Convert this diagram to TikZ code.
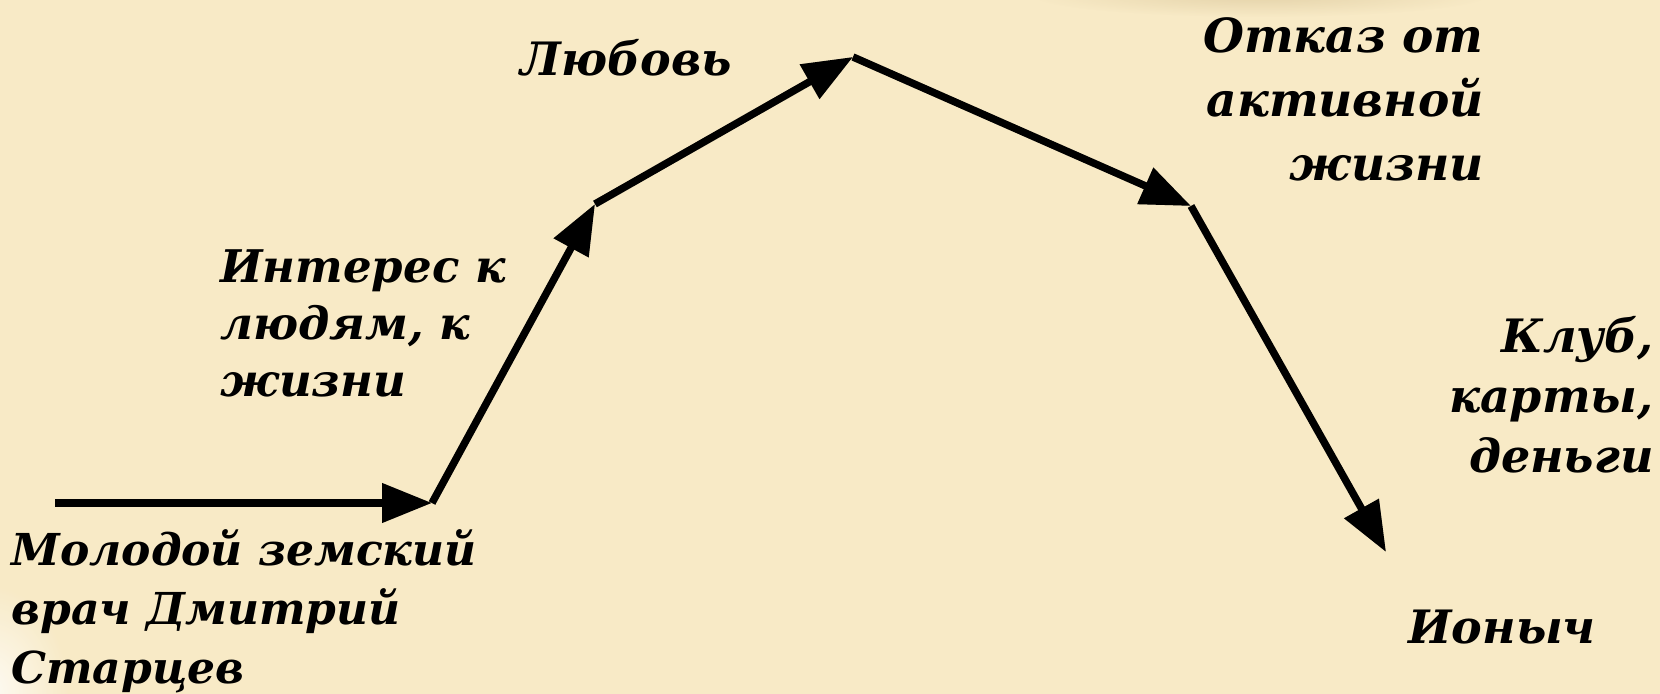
\documentclass[tikz,border=0pt]{standalone}
\usepackage{fontspec}
\setmainfont{DejaVu Serif}
\usetikzlibrary{arrows.meta}
\definecolor{paper}{RGB}{248,234,198}
\definecolor{smudge}{RGB}{215,195,150}
\tikzset{
  arr/.style={line width=3.7pt, -{Triangle[length=25pt,width=19pt]}, black},
  shadowarr/.style={line width=3.7pt, -{Triangle[length=25pt,width=19pt]}, black, opacity=0.22, shift={(2.5,3.5)}},
  lbl/.style={font=\bfseries\itshape\fontsize{23}{30.5}\selectfont, inner sep=0pt},
}
\begin{document}
\begin{tikzpicture}[x=0.5pt,y=-0.5pt]
\fill[paper] (0,0) rectangle (1660,694);
\useasboundingbox (0,0) rectangle (1660,694);
% background smudges
\begin{scope}
\clip (0,0) rectangle (1660,694);
\shade[inner color=smudge, outer color=paper, opacity=0.6] (1260,-5) ellipse [x radius=230, y radius=22];
\shade[inner color=white, outer color=paper, opacity=0.8] (-10,694) ellipse [x radius=80, y radius=110];
\end{scope}
% path points
\coordinate (p0) at (55,503);
\coordinate (p1) at (432,503);
\coordinate (p2) at (595,204);
\coordinate (p3) at (853,57);
\coordinate (p4) at (1191,206);
\coordinate (p5) at (1386,552);
% shadows
\draw[shadowarr] (p0) -- (p1);
\draw[shadowarr] (p1) -- (p2);
\draw[shadowarr] (p2) -- (p3);
\draw[shadowarr] (p3) -- (p4);
\draw[shadowarr] (p4) -- (p5);
% arrows
\draw[arr] (p0) -- (p1);
\draw[arr] (p1) -- (p2);
\draw[arr] (p2) -- (p3);
\draw[arr] (p3) -- (p4);
\draw[arr] (p4) -- (p5);
% labels
\node[lbl, anchor=west, align=left, font=\bfseries\itshape\fontsize{22}{29.5}\selectfont] (start) at (11,611) {Молодой земский\\врач Дмитрий\\Старцев};
\node[lbl, anchor=west, align=left, font=\bfseries\itshape\fontsize{22.5}{28.5}\selectfont] (interest) at (220,323) {Интерес к\\людям, к\\жизни};
\node[lbl, anchor=center] (love) at (626,58) {Любовь};
\node[lbl, anchor=east, align=right, font=\bfseries\itshape\fontsize{23.5}{32}\selectfont] (refuse) at (1484,99) {Отказ от\\активной\\жизни};
\node[lbl, anchor=east, align=right, font=\bfseries\itshape\fontsize{23}{30}\selectfont] (club) at (1654,395) {Клуб,\\карты,\\деньги};
\node[lbl, anchor=center] (ionych) at (1502,627) {Ионыч};
\end{tikzpicture}
\end{document}
